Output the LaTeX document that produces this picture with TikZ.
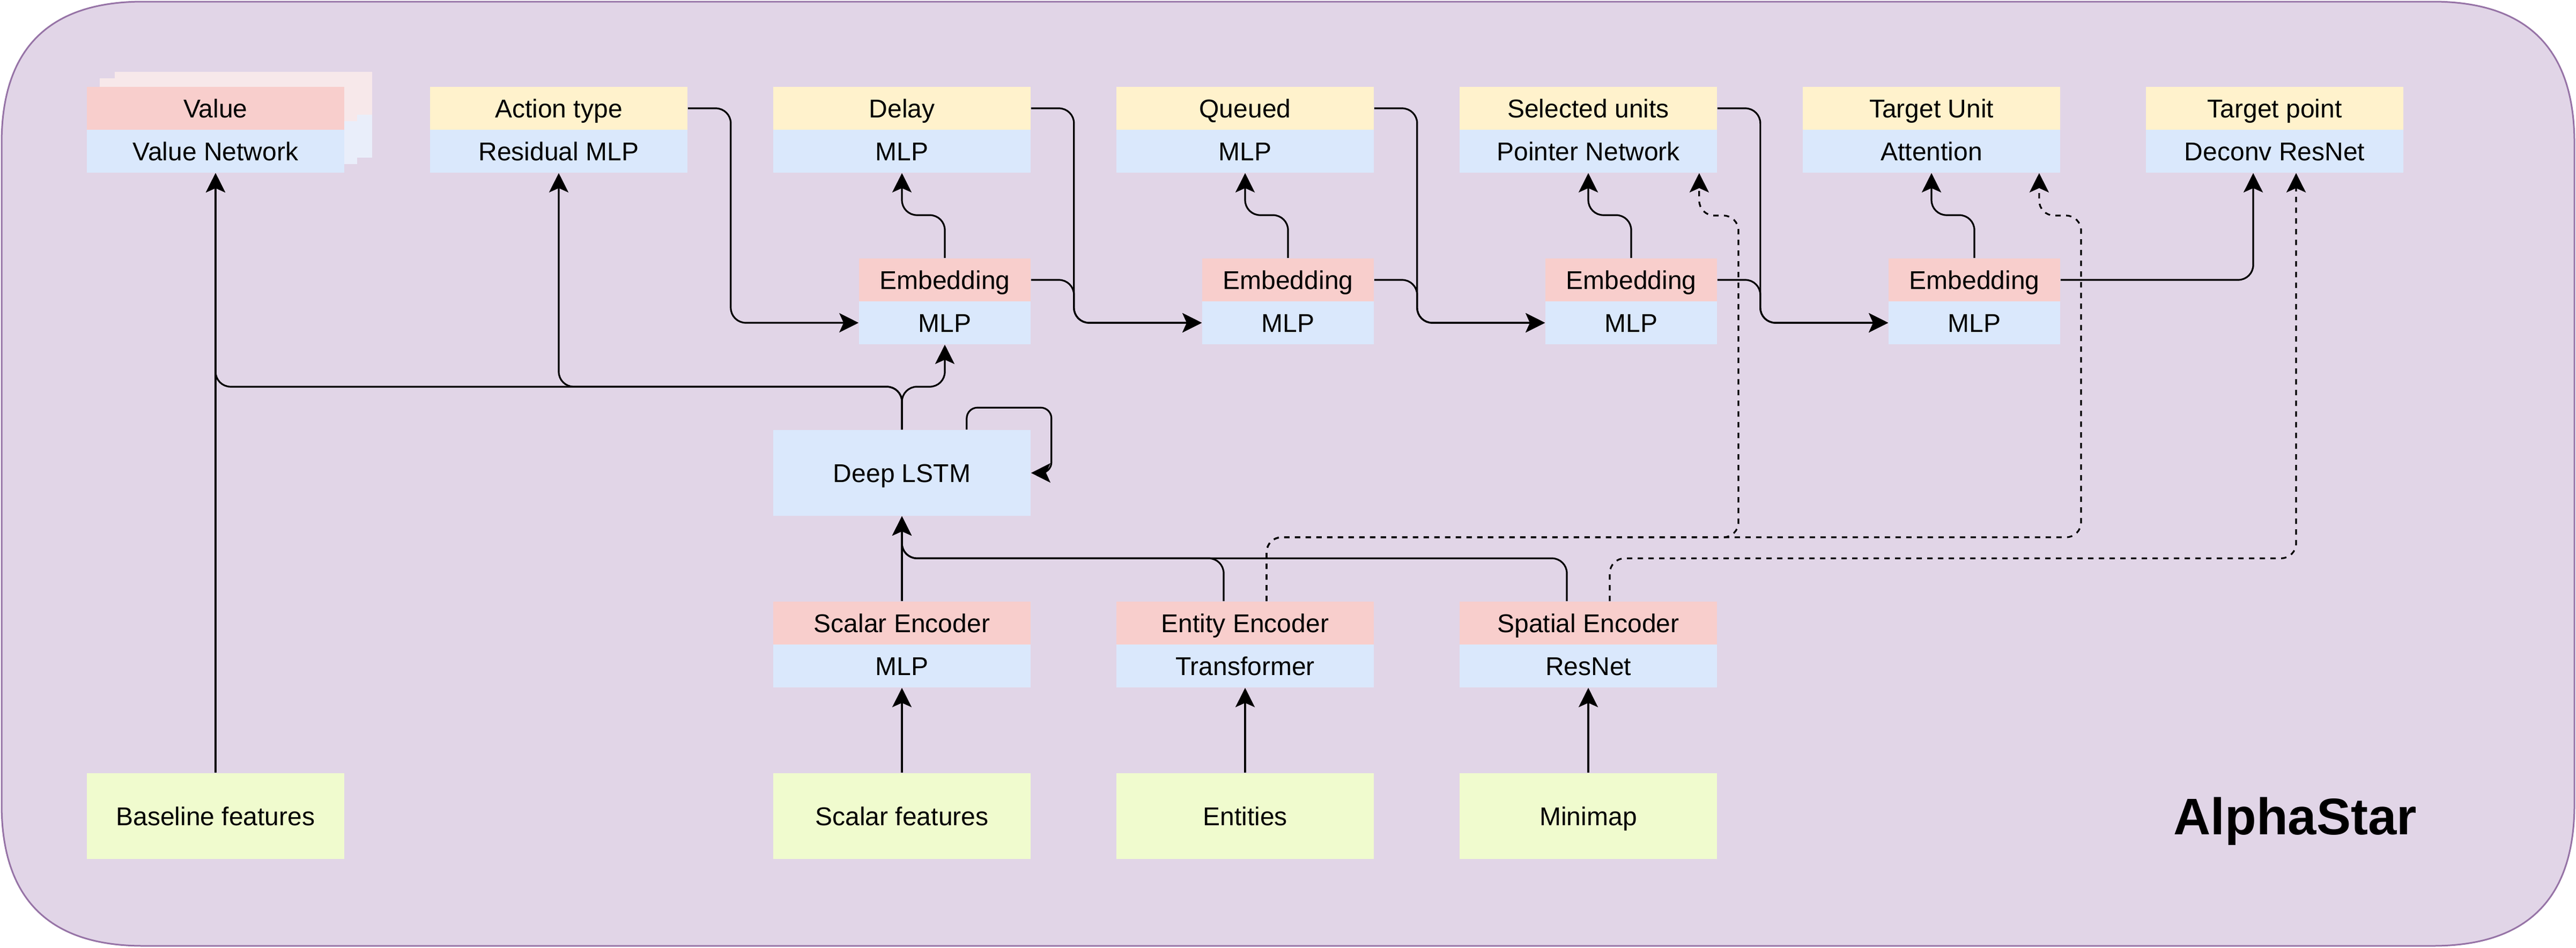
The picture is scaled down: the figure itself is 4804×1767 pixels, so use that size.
\documentclass[tikz,border=0pt]{standalone}
\usepackage{fontspec}
\setmainfont{Liberation Sans}
\usetikzlibrary{arrows.meta,calc}
\definecolor{bgfill}{HTML}{E1D5E7}
\definecolor{bgline}{HTML}{9673A6}
\definecolor{pinkc}{HTML}{F8CECC}
\definecolor{yelc}{HTML}{FFF2CC}
\definecolor{bluec}{HTML}{DAE8FC}
\definecolor{greenc}{HTML}{F0FBCE}
\definecolor{pinkg}{HTML}{F7E8EA}
\definecolor{blueg}{HTML}{E9EEFA}
\begin{document}
\begin{tikzpicture}[x=0.25pt,y=-0.25pt,
  cell/.style={minimum width=120pt, minimum height=20pt, inner sep=0pt, draw=none,
    font=\fontsize{12pt}{14pt}\selectfont, text height=8.6pt, text depth=0pt},
  halfcell/.style={cell, minimum width=80pt},
  pinkcell/.style={cell, fill=pinkc},
  yelcell/.style={cell, fill=yelc},
  bluecell/.style={cell, fill=bluec},
  embpink/.style={halfcell, fill=pinkc},
  embblue/.style={halfcell, fill=bluec},
  tallblue/.style={cell, fill=bluec, minimum height=40pt},
  inbox/.style={cell, fill=greenc, minimum height=40pt},
  conn/.style={line width=0.8pt, rounded corners=7pt, -{Stealth[length=9pt,width=9pt,inset=2pt]}},
  loopconn/.style={conn, rounded corners=5pt},
  dconn/.style={conn, dash pattern=on 2.5pt off 2.5pt},
]
\useasboundingbox (0,0) rectangle (4804,1767);
% outer container
\path[fill=bgfill, draw=bgline, line width=0.75pt]
  (267,3) -- (4537,3) .. controls (4713,3) and (4801,91) .. (4801,267)
  -- (4801,1500) .. controls (4801,1676) and (4713,1764) .. (4537,1764)
  -- (267,1764) .. controls (91,1764) and (3,1676) .. (3,1500)
  -- (3,267) .. controls (3,91) and (91,3) .. (267,3) -- cycle;

% ghost stack behind Value
\fill[pinkg] (214,134) rectangle (694,214);
\fill[blueg] (214,214) rectangle (694,294);
\fill[pinkg] (186,146) rectangle (666,226);
\fill[blueg] (186,226) rectangle (666,306);

% top heads
\node[pinkcell] (val) at (402,202) {Value};
\node[bluecell] (vn) at (402,282) {Value Network};
\node[yelcell] (at) at (1042,202) {Action type};
\node[bluecell] (rm) at (1042,282) {Residual MLP};
\node[yelcell] (dl) at (1682,202) {Delay};
\node[bluecell] (dlm) at (1682,282) {MLP};
\node[yelcell] (qu) at (2322,202) {Queued};
\node[bluecell] (qm) at (2322,282) {MLP};
\node[yelcell] (su) at (2962,202) {Selected units};
\node[bluecell] (pn) at (2962,282) {Pointer Network};
\node[yelcell] (tu) at (3602,202) {Target Unit};
\node[bluecell] (att) at (3602,282) {Attention};
\node[yelcell] (tp) at (4242,202) {Target point};
\node[bluecell] (dr) at (4242,282) {Deconv ResNet};

% embeddings
\node[embpink] (e1) at (1762,522) {Embedding};
\node[embblue] (m1) at (1762,602) {MLP};
\node[embpink] (e2) at (2402,522) {Embedding};
\node[embblue] (m2) at (2402,602) {MLP};
\node[embpink] (e3) at (3042,522) {Embedding};
\node[embblue] (m3) at (3042,602) {MLP};
\node[embpink] (e4) at (3682,522) {Embedding};
\node[embblue] (m4) at (3682,602) {MLP};

% core
\node[tallblue] (lstm) at (1682,882) {Deep LSTM};

% encoders
\node[pinkcell] (se) at (1682,1162) {Scalar Encoder};
\node[bluecell] (sm) at (1682,1242) {MLP};
\node[pinkcell] (ee) at (2322,1162) {Entity Encoder};
\node[bluecell] (tr) at (2322,1242) {Transformer};
\node[pinkcell] (spe) at (2962,1162) {Spatial Encoder};
\node[bluecell] (rn) at (2962,1242) {ResNet};

% inputs
\node[inbox] (bf) at (402,1522) {Baseline features};
\node[inbox] (sf) at (1682,1522) {Scalar features};
\node[inbox] (en) at (2322,1522) {Entities};
\node[inbox] (mm) at (2962,1522) {Minimap};

\node[inner sep=0pt, font=\fontsize{24pt}{28pt}\selectfont\bfseries, text height=17.2pt, text depth=0pt] (title) at (4280,1522) {AlphaStar};

% coordinates for lanes
\coordinate (pdash) at (3242,1002);
\coordinate (adash) at (3881,1002);

% connectors
\draw[conn] (bf.north) -- (vn.south);
\draw[conn] (lstm.north) -- ++(0,-80) -| (vn.south);
\draw[conn] (lstm.north) -- ++(0,-80) -| (rm.south);
\draw[conn] (lstm.north) -- ++(0,-80) -| (m1.south);
\draw[loopconn] ($(lstm.north east)+(-120,0)$) -- ++(0,-41) -| ($(lstm.east)+(38,0)$) -- (lstm.east);

\draw[conn] (e1.north) -- ++(0,-80) -| (dlm.south);
\draw[conn] (e2.north) -- ++(0,-80) -| (qm.south);
\draw[conn] (e3.north) -- ++(0,-80) -| (pn.south);
\draw[conn] (e4.north) -- ++(0,-80) -| (att.south);

\draw[conn] (at.east) -- ++(80,0) |- (m1.west);
\draw[conn] (dl.east) -- ++(80,0) |- (m2.west);
\draw[conn] (e1.east) -- ++(80,0) |- (m2.west);
\draw[conn] (qu.east) -- ++(80,0) |- (m3.west);
\draw[conn] (e2.east) -- ++(80,0) |- (m3.west);
\draw[conn] (su.east) -- ++(80,0) |- (m4.west);
\draw[conn] (e3.east) -- ++(80,0) |- (m4.west);
\draw[conn] (e4.east) -| ($(dr.south)+(-40,0)$);

\draw[conn] (se.north) -- (lstm.south);
\draw[conn] ($(ee.north)+(-40,0)$) -- ++(0,-80) -| (lstm.south);
\draw[conn] ($(spe.north)+(-40,0)$) -- ++(0,-80) -| (lstm.south);

\draw[dconn] ($(ee.north)+(40,0)$) |- (pdash) -- ++(0,-600) -| ($(pn.south east)+(-34,0)$);
\draw[dconn] ($(ee.north)+(40,0)$) |- (adash) -- ++(0,-600) -| ($(att.south east)+(-40,0)$);
\draw[dconn] ($(spe.north)+(40,0)$) -- ++(0,-80) -| ($(dr.south)+(40,0)$);

\draw[conn] (sf.north) -- (sm.south);
\draw[conn] (en.north) -- (tr.south);
\draw[conn] (mm.north) -- (rn.south);
\end{tikzpicture}
\end{document}
